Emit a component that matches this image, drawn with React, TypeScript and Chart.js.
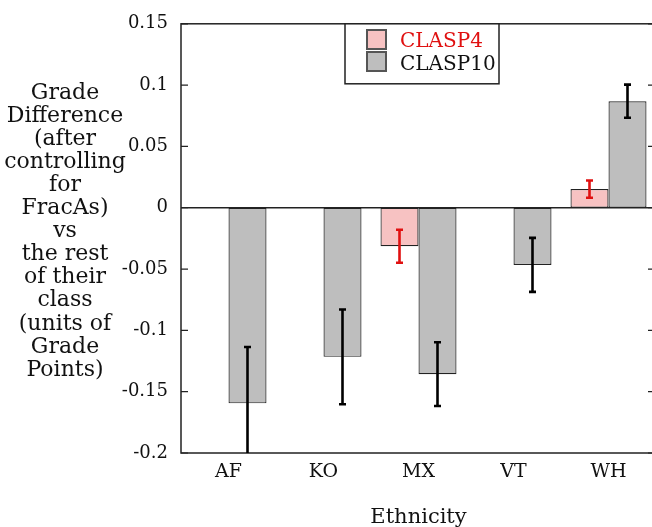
import React, { useEffect, useRef } from "react";
import { Chart, registerables } from "chart.js";

Chart.register(...registerables);

const categories = ["AF", "KO", "MX", "VT", "WH"];
const clasp4Values: (number | null)[] = [null, null, -0.0314, null, 0.0152];
const clasp4Errors: (number | null)[] = [null, null, 0.0135, null, 0.007];
const clasp10Values: number[] = [-0.1595, -0.1216, -0.1357, -0.0466, 0.0869];
const clasp10Errors: number[] = [0.046, 0.0386, 0.026, 0.022, 0.0135];
const yTitleLines = [
  "Grade",
  "Difference",
  "(after",
  "controlling",
  "for",
  "FracAs)",
  "vs",
  "the rest",
  "of their",
  "class",
  "(units of",
  "Grade",
  "Points)",
];
const xTitle = "Ethnicity";
const seriesNames = ["CLASP4", "CLASP10"];

const FONT = "'DejaVu Serif', serif";
const PINK = "#f7c2c2";
const GRAY = "#bebebe";
const RED = "#e01010";
const FRAME = "#222";

const customPlugin = {
  id: "custom",
  beforeDatasetsDraw(chart: any) {
    const { ctx, chartArea } = chart;
    const y = chart.scales.y;
    ctx.save();
    ctx.strokeStyle = FRAME;
    ctx.lineWidth = 1.5;
    ctx.strokeRect(chartArea.left, chartArea.top, chartArea.right - chartArea.left, chartArea.bottom - chartArea.top);
    ctx.lineWidth = 1.2;
    y.ticks.forEach((t: any) => {
      const py = y.getPixelForValue(t.value);
      ctx.beginPath();
      ctx.moveTo(chartArea.left, py);
      ctx.lineTo(chartArea.left + 7, py);
      ctx.moveTo(chartArea.right, py);
      ctx.lineTo(chartArea.right - 8, py);
      ctx.stroke();
    });
    ctx.restore();
  },
  afterDatasetsDraw(chart: any) {
    const { ctx, chartArea } = chart;
    const y = chart.scales.y;
    ctx.save();
    const y0 = y.getPixelForValue(0);
    ctx.strokeStyle = FRAME;
    ctx.lineWidth = 1.5;
    ctx.beginPath();
    ctx.moveTo(chartArea.left, y0);
    ctx.lineTo(chartArea.right, y0);
    ctx.stroke();
    ctx.beginPath();
    ctx.rect(chartArea.left, chartArea.top, chartArea.right - chartArea.left, chartArea.bottom - chartArea.top);
    ctx.clip();
    const sets = [
      { vals: clasp4Values, errs: clasp4Errors, color: RED, idx: 0 },
      { vals: clasp10Values, errs: clasp10Errors, color: "#000", idx: 1 },
    ];
    sets.forEach((s) => {
      const meta = chart.getDatasetMeta(s.idx);
      s.vals.forEach((v, i) => {
        const e = s.errs[i];
        if (v == null || e == null) return;
        const el = meta.data[i];
        const px = el.x;
        const top = y.getPixelForValue(v + e);
        const bot = y.getPixelForValue(v - e);
        ctx.strokeStyle = s.color;
        ctx.lineWidth = 2.6;
        ctx.beginPath();
        ctx.moveTo(px, top);
        ctx.lineTo(px, bot);
        ctx.moveTo(px - 3.5, top);
        ctx.lineTo(px + 3.5, top);
        ctx.moveTo(px - 3.5, bot);
        ctx.lineTo(px + 3.5, bot);
        ctx.stroke();
      });
    });
    ctx.restore();
  },
  afterDraw(chart: any) {
    const { ctx, chartArea } = chart;
    ctx.save();
    ctx.fillStyle = "#111";
    ctx.font = `22px ${FONT}`;
    ctx.textAlign = "center";
    ctx.textBaseline = "alphabetic";
    yTitleLines.forEach((line, i) => {
      ctx.fillText(line, 65, 98.5 + i * 23.1);
    });
    ctx.font = `21px ${FONT}`;
    ctx.fillText(xTitle, (chartArea.left + chartArea.right) / 2, 523);
    const lx = 345, ly = chartArea.top, lw = 154, lh = 60;
    ctx.fillStyle = "#fff";
    ctx.fillRect(lx, ly, lw, lh);
    ctx.strokeStyle = FRAME;
    ctx.lineWidth = 1.5;
    ctx.strokeRect(lx, ly, lw, lh);
    const entries = [
      { fill: PINK, text: seriesNames[0], color: RED, sy: 30, base: 47 },
      { fill: GRAY, text: seriesNames[1], color: "#111", sy: 52, base: 70 },
    ];
    ctx.textAlign = "left";
    ctx.font = `20px ${FONT}`;
    entries.forEach((en) => {
      ctx.fillStyle = en.fill;
      ctx.fillRect(367, en.sy, 19, 19);
      ctx.strokeStyle = "#555";
      ctx.lineWidth = 2;
      ctx.strokeRect(367, en.sy, 19, 19);
      ctx.fillStyle = en.color;
      ctx.fillText(en.text, 400, en.base);
    });
    ctx.restore();
  },
};

export default function App() {
  const ref = useRef<HTMLCanvasElement | null>(null);
  useEffect(() => {
    if (!ref.current) return;
    const chart = new Chart(ref.current, {
      type: "bar",
      data: {
        labels: categories,
        datasets: [
          {
            label: seriesNames[0],
            data: clasp4Values as any,
            backgroundColor: PINK,
            borderColor: "#222",
            borderWidth: 1.2,
            borderSkipped: false,
            categoryPercentage: 0.8,
            barPercentage: 1.0,
          },
          {
            label: seriesNames[1],
            data: clasp10Values,
            backgroundColor: GRAY,
            borderColor: "#222",
            borderWidth: 1.2,
            borderSkipped: false,
            categoryPercentage: 0.8,
            barPercentage: 1.0,
          },
        ],
      },
      options: {
        responsive: false,
        animation: false,
        layout: { padding: { top: 22, left: 0, right: 0, bottom: 0 } },
        plugins: {
          legend: { display: false },
          tooltip: { enabled: false },
        },
        scales: {
          x: {
            grid: { display: false, drawTicks: false },
            border: { display: false },
            ticks: { font: { family: FONT, size: 19 }, color: "#111", padding: 8 },
            afterFit(scale: any) {
              scale.height = 74;
            },
          },
          y: {
            min: -0.2,
            max: 0.15,
            grid: { display: false, drawTicks: false },
            border: { display: false },
            ticks: {
              stepSize: 0.05,
              font: { family: FONT, size: 18 },
              color: "#111",
              padding: 13,
              callback: (v: any) => String(Number(Number(v).toFixed(2))),
            },
            afterFit(scale: any) {
              scale.width = 181;
            },
          },
        },
      },
      plugins: [customPlugin],
    });
    return () => chart.destroy();
  }, []);
  return (
    <div style={{ position: "absolute", left: 0, top: 0, width: 652, height: 527, overflow: "hidden", background: "#fff" }}>
      <canvas ref={ref} width={656} height={527} style={{ width: 656, height: 527, display: "block" }} />
    </div>
  );
}
